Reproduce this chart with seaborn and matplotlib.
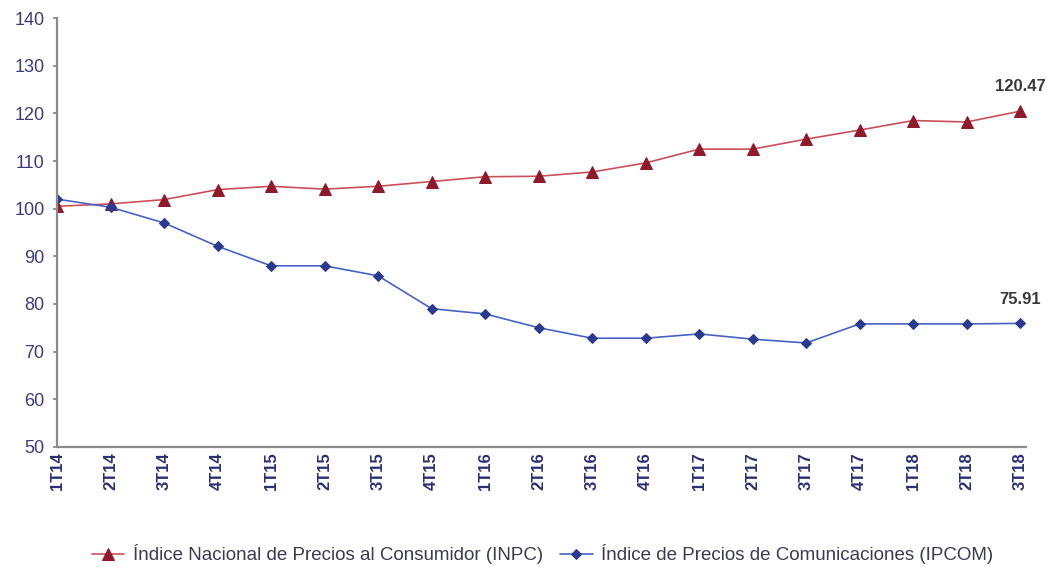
import numpy as np
import pandas as pd
import matplotlib
matplotlib.use("Agg")
import matplotlib.pyplot as plt
import seaborn as sns

# === Data ===
quarters = ["1T14", "2T14", "3T14", "4T14", "1T15", "2T15", "3T15", "4T15", "1T16",
            "2T16", "3T16", "4T16", "1T17", "2T17", "3T17", "4T17", "1T18", "2T18", "3T18"]
inpc = [100.5, 101.0, 101.9, 104.0, 104.7, 104.1, 104.7, 105.7, 106.7,
        106.8, 107.7, 109.6, 112.5, 112.5, 114.6, 116.5, 118.5, 118.2, 120.47]
ipcom = [102.0, 100.3, 97.0, 92.1, 88.0, 88.0, 85.9, 79.0, 77.9,
         75.0, 72.8, 72.8, 73.7, 72.6, 71.8, 75.8, 75.8, 75.8, 75.91]
label_inpc = "Índice Nacional de Precios al Consumidor (INPC)"
label_ipcom = "Índice de Precios de Comunicaciones (IPCOM)"

df = pd.DataFrame({"pos": np.arange(len(quarters)), "quarter": quarters,
                   "inpc": inpc, "ipcom": ipcom})

# === Style ===
sns.set_theme(style="white")
plt.rcParams["font.family"] = ["Liberation Sans", "DejaVu Sans"]

fig = plt.figure(figsize=(10.47, 5.67), dpi=100)
ax = fig.add_axes([0.0545, 0.212, 0.925, 0.756])

sns.lineplot(data=df, x="pos", y="inpc", ax=ax, color="#C8505C", linewidth=1.2,
             marker="^", markersize=8, markerfacecolor="#8E1B2C",
             markeredgecolor="#8E1B2C", label=label_inpc, legend=False)
sns.lineplot(data=df, x="pos", y="ipcom", ax=ax, color="#4663C4", linewidth=1.2,
             marker="D", markersize=5.5, markerfacecolor="#2C3A8E",
             markeredgecolor="#2C3A8E", label=label_ipcom, legend=False)

# end labels
last = len(quarters) - 1
ax.annotate(f"{inpc[-1]:.2f}", (last, inpc[-1]), xytext=(0, 12), textcoords="offset points",
            ha="center", va="bottom", fontsize=12, fontweight="bold", color="#3a3a3a")
ax.annotate(f"{ipcom[-1]:.2f}", (last, ipcom[-1]), xytext=(0, 12), textcoords="offset points",
            ha="center", va="bottom", fontsize=12, fontweight="bold", color="#3a3a3a")

ax.set_xlim(0, last + 0.1)
ax.set_ylim(50, 140)
ax.set_yticks(np.arange(50, 141, 10))
ax.set_xticks(df["pos"])
ax.set_xticklabels(quarters, rotation=90, fontsize=12, fontweight="bold", color="#2B3070")
ax.tick_params(axis="y", labelsize=13, labelcolor="#3C3C78", left=True, length=3,
               color="#888888", pad=6)
ax.tick_params(axis="x", bottom=False, length=0, pad=4)
ax.set_xlabel("")
ax.set_ylabel("")

sns.despine(ax=ax)
for s in ["left", "bottom"]:
    ax.spines[s].set_color("#8a8a8a")
    ax.spines[s].set_linewidth(1.6)

handles, labels = ax.get_legend_handles_labels()
fig.legend(handles, labels, loc="lower center", bbox_to_anchor=(0.518, -0.025), ncol=2,
           frameon=False, fontsize=13.5, handlelength=1.75, columnspacing=0.9,
           handletextpad=0.45, labelcolor="#3a3a55")

plt.savefig("out.png", dpi=100)
plt.close()
